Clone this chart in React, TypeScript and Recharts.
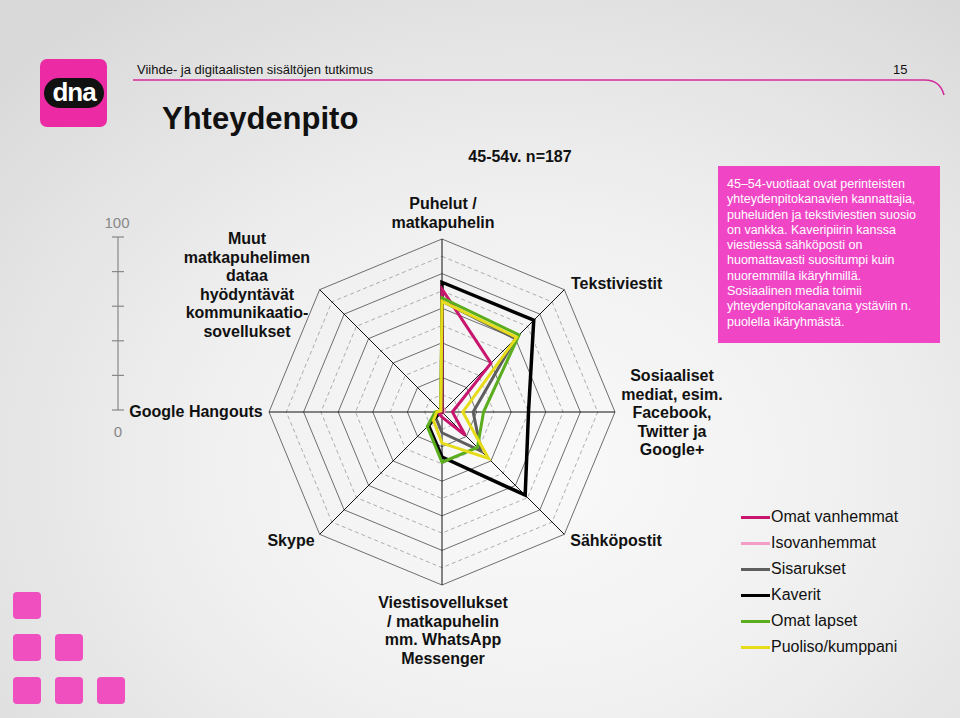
import React from "react";
import { RadarChart, Radar, PolarGrid, PolarAngleAxis, PolarRadiusAxis, Legend } from "recharts";

const categories = [
  "Puhelut / matkapuhelin",
  "Tekstiviestit",
  "Sosiaaliset mediat, esim. Facebook, Twitter ja Google+",
  "Sähköpostit",
  "Viestisovellukset / matkapuhelin mm. WhatsApp Messenger",
  "Skype",
  "Google Hangouts",
  "Muut matkapuhelimen dataa hyödyntävät kommunikaatio-sovellukset",
];

const categoryLines = [
  ["Puhelut /", "matkapuhelin"],
  ["Tekstiviestit"],
  ["Sosiaaliset", "mediat, esim.", "Facebook,", "Twitter ja", "Google+"],
  ["Sähköpostit"],
  ["Viestisovellukset", "/ matkapuhelin", "mm. WhatsApp", "Messenger"],
  ["Skype"],
  ["Google Hangouts"],
  ["Muut", "matkapuhelimen", "dataa", "hyödyntävät", "kommunikaatio-", "sovellukset"],
];

const omatVanhemmat = [71, 40, 6, 19, 3, 2, 1, 0];
const isovanhemmat = [3, 2, 1, 1, 1, 0, 0, 0];
const sisarukset = [64, 60, 18, 32, 12, 5, 2, 1];
const kaverit = [75, 75, 50, 68, 26, 11, 1, 0];
const omatLapset = [66, 63, 24, 29, 29, 12, 4, 1];
const puoliso = [64, 61, 12, 38, 18, 7, 3, 1];

const seriesDefs = [
  { key: "omatVanhemmat", name: "Omat vanhemmat", color: "#c8166f", values: omatVanhemmat },
  { key: "isovanhemmat", name: "Isovanhemmat", color: "#f29cc6", values: isovanhemmat },
  { key: "sisarukset", name: "Sisarukset", color: "#5e5e5e", values: sisarukset },
  { key: "kaverit", name: "Kaverit", color: "#000000", values: kaverit },
  { key: "omatLapset", name: "Omat lapset", color: "#5aad1c", values: omatLapset },
  { key: "puoliso", name: "Puoliso/kumppani", color: "#e6dc1a", values: puoliso },
];

const drawOrder = ["isovanhemmat", "sisarukset", "kaverit", "omatVanhemmat", "omatLapset", "puoliso"];

const scaleLabels = ["0", "100"];
const gridSolid = [20, 40, 60, 80, 100];
const gridDashed = [10, 30, 50, 70, 90];

const infoLines = [
  "45–54-vuotiaat ovat perinteisten",
  "yhteydenpitokanavien kannattajia,",
  "puheluiden ja tekstiviestien suosio",
  "on vankka. Kaveripiirin kanssa",
  "viestiessä sähköposti on",
  "huomattavasti suositumpi kuin",
  "nuoremmilla ikäryhmillä.",
  "Sosiaalinen media toimii",
  "yhteydenpitokanavana ystäviin n.",
  "puolella ikäryhmästä.",
];

const data = categories.map((c, i) => {
  const row: any = { category: c };
  seriesDefs.forEach((s) => (row[s.key] = s.values[i]));
  return row;
});

const CX = 442;
const CY = 412;
const R = 173;
const FONT = "'Liberation Sans', Arial, sans-serif";

// label layout: x offset of anchor from center, first baseline offset, anchor
const labelLayout = [
  { dx: 1, dy: -203, anchor: "middle" },
  { dx: 129, dy: -123, anchor: "start" },
  { dx: 230, dy: -31, anchor: "middle" },
  { dx: 174, dy: 134, anchor: "middle" },
  { dx: 1, dy: 196, anchor: "middle" },
  { dx: -151, dy: 134, anchor: "middle" },
  { dx: -246, dy: 5, anchor: "middle" },
  { dx: -195, dy: -168, anchor: "middle" },
];

const AngleTick = (props: any) => {
  const idx = categories.indexOf(props.payload.value);
  if (idx < 0) return null;
  const lay = labelLayout[idx];
  const lines = categoryLines[idx];
  const x = CX + lay.dx;
  return (
    <text textAnchor={lay.anchor} fontFamily={FONT} fontSize={16} fontWeight="bold" fill="#111">
      {lines.map((l, i) => (
        <tspan key={i} x={x} y={CY + lay.dy + i * 18.6}>
          {l}
        </tspan>
      ))}
    </text>
  );
};

const LegendContent = () => (
  <div style={{ fontFamily: FONT, fontSize: 16, color: "#111" }}>
    {seriesDefs.map((s) => (
      <div key={s.key} style={{ display: "flex", alignItems: "center", height: 26 }}>
        <div style={{ width: 29, height: 3, background: s.color }} />
        <span style={{ marginLeft: 1 }}>{s.name}</span>
      </div>
    ))}
  </div>
);

const squares = [
  [13, 592],
  [13, 634],
  [55, 634],
  [13, 677],
  [55, 677],
  [97, 677],
];

export default function App() {
  const tickYs = [0, 1, 2, 3, 4, 5].map((i) => 237 + (i * 173) / 5);
  return (
    <div
      style={{
        position: "absolute",
        left: 0,
        top: 0,
        width: 960,
        height: 718,
        overflow: "hidden",
        fontFamily: FONT,
        background: "radial-gradient(ellipse 75% 80% at 55% 65%, #fafafa 0%, #f0f0f0 45%, #e2e2e2 80%, #d9d9d9 100%)",
      }}
    >
      {/* logo */}
      <div style={{ position: "absolute", left: 40, top: 59, width: 67, height: 68, borderRadius: 7, background: "#ec2aa4" }} />
      <div
        style={{
          position: "absolute",
          left: 44,
          top: 78,
          width: 60,
          height: 30,
          borderRadius: 15,
          background: "#111",
          color: "#fff",
          fontWeight: "bold",
          fontSize: 26,
          lineHeight: "28px",
          textAlign: "center",
          letterSpacing: -1,
        }}
      >
        dna
      </div>
      {/* header */}
      <svg style={{ position: "absolute", left: 0, top: 0 }} width={960} height={718}>
        <path d="M133 80 L925 80 Q940 80 944 95" stroke="#d42b9c" strokeWidth={1.6} fill="none" />
        <text x={137} y={74} fontSize={13} fill="#111" fontFamily={FONT}>
          Viihde- ja digitaalisten sisältöjen tutkimus
        </text>
        <text x={893} y={74} fontSize={13} fill="#111" fontFamily={FONT}>
          15
        </text>
        <text x={162} y={129} fontSize={31} fontWeight="bold" fill="#111" fontFamily={FONT}>
          Yhteydenpito
        </text>
        <text x={520} y={162} fontSize={16} fontWeight="bold" fill="#111" textAnchor="middle" fontFamily={FONT}>
          45-54v. n=187
        </text>
        {/* left scale */}
        <line x1={118} y1={237} x2={118} y2={410} stroke="#888" strokeWidth={1.2} />
        {tickYs.map((y, i) => (
          <line key={i} x1={112} y1={y} x2={124} y2={y} stroke="#888" strokeWidth={1.2} />
        ))}
        <text x={117} y={228} fontSize={15} fill="#888" textAnchor="middle" fontFamily={FONT}>
          {scaleLabels[1]}
        </text>
        <text x={118} y={437} fontSize={15} fill="#888" textAnchor="middle" fontFamily={FONT}>
          {scaleLabels[0]}
        </text>
        {squares.map(([x, y], i) => (
          <rect key={i} x={x} y={y} width={28} height={27} rx={4} fill="#ef4fbf" />
        ))}
      </svg>
      {/* info box */}
      <div
        style={{
          position: "absolute",
          left: 718,
          top: 166,
          width: 222,
          height: 177,
          background: "#f046c6",
          color: "#fff",
          fontSize: 12.5,
          lineHeight: "15.3px",
          padding: "11px 0 0 9px",
          boxSizing: "border-box",
          whiteSpace: "nowrap",
        }}
      >
        {infoLines.map((l, i) => (
          <div key={i}>{l}</div>
        ))}
      </div>
      <div style={{ position: "absolute", left: 0, top: 0 }}>
        <RadarChart width={960} height={718} cx={CX} cy={CY} outerRadius={R} data={data} margin={{ top: 0, right: 0, bottom: 0, left: 0 }}>
          <PolarGrid gridType="polygon" radialLines={false} polarRadius={gridDashed.map((v) => (v / 100) * R)} stroke="#9a9a9a" strokeDasharray="4 3" strokeWidth={0.8} />
          <PolarGrid gridType="polygon" radialLines={false} polarRadius={gridSolid.map((v) => (v / 100) * R)} stroke="#6e6e6e" strokeWidth={1} />
          <PolarGrid gridType="polygon" radialLines={true} polarRadius={[0.5]} stroke="#111" strokeWidth={1} />
          <PolarAngleAxis dataKey="category" tick={AngleTick} tickLine={false} axisLine={false} />
          <PolarRadiusAxis domain={[0, 100]} tick={false} axisLine={false} />
          {drawOrder.map((k) => {
            const s = seriesDefs.find((d) => d.key === k)!;
            return (
              <Radar
                key={k}
                dataKey={k}
                name={s.name}
                stroke={s.color}
                strokeWidth={k === "kaverit" ? 3.5 : 3}
                fill="none"
                fillOpacity={0}
                dot={false}
                isAnimationActive={false}
              />
            );
          })}
          <Legend content={LegendContent} layout="vertical" wrapperStyle={{ position: "absolute", left: 741, top: 504, width: 200 }} />
        </RadarChart>
      </div>
    </div>
  );
}
